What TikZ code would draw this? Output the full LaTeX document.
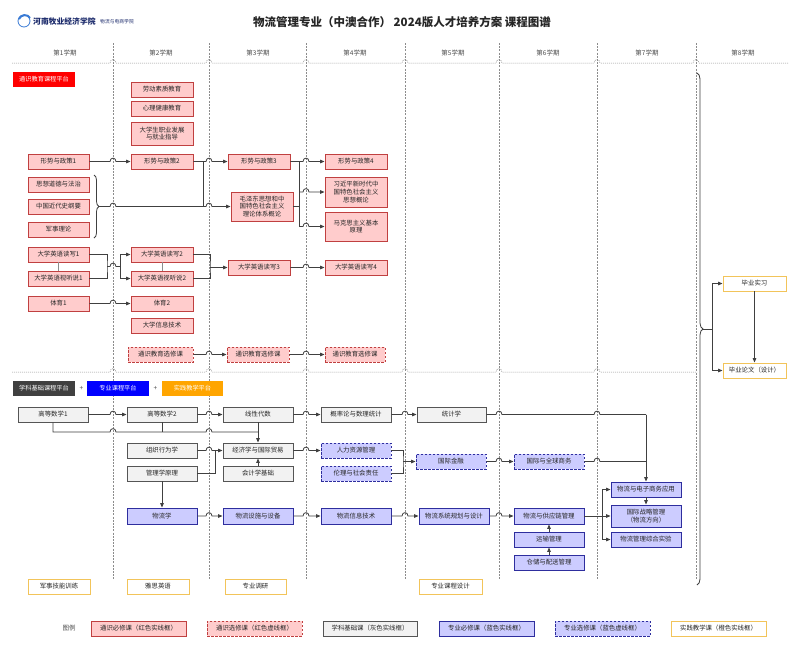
\documentclass[tikz,border=0pt]{standalone}
\usepackage{fontspec}
\setmainfont{Noto Sans CJK SC}
\usetikzlibrary{arrows.meta,calc,decorations.pathreplacing}
\definecolor{reqfill}{HTML}{FFCCCC}
\definecolor{reqdraw}{HTML}{C04040}
\definecolor{basefill}{HTML}{F2F2F2}
\definecolor{basedraw}{HTML}{555555}
\definecolor{blufill}{HTML}{CCCCFF}
\definecolor{bludraw}{HTML}{2E2E9E}
\definecolor{pracdraw}{HTML}{F2C45A}
\definecolor{conncol}{HTML}{404040}
\definecolor{divcol}{HTML}{8C8C8C}
\definecolor{logoblue}{HTML}{1B2A6B}
\definecolor{logosky}{HTML}{3A7BD5}
\definecolor{platorange}{HTML}{FFA500}
\definecolor{platgrey}{HTML}{404040}
\newcommand{\mybox}[7]{\node[#1, minimum width={(#5-#3)*1pt}, minimum height={(#6-#4)*1pt}] (#2) at ({(#3+#5)/2},{(#4+#6)/2}) {#7};}
\newcommand{\jp}[2]{-- ($(#1 -| #2)+(-3,0)$) .. controls ($(#1 -| #2)+(-3,-4.5)$) and ($(#1 -| #2)+(3,-4.5)$) .. ($(#1 -| #2)+(3,0)$)}
\tikzset{
 box/.style={draw, line width=0.9pt, inner sep=0.5pt, align=center, font=\fontsize{6.4}{7.6}\selectfont, text=black!85},
 req/.style={box, fill=reqfill, draw=reqdraw},
 ropt/.style={req, dash pattern=on 2.5pt off 1.5pt},
 base/.style={box, fill=basefill, draw=basedraw},
 preq/.style={box, fill=blufill, draw=bludraw},
 popt/.style={preq, dash pattern=on 2.5pt off 1.5pt},
 prac/.style={box, fill=white, draw=pracdraw},
 plat/.style={inner sep=0.5pt, align=center, font=\fontsize{6.2}{7}\selectfont, text=white},
 line/.style={draw=conncol, line width=0.8pt},
 arr/.style={line, -{Triangle[length=4.5pt,width=3.6pt]}},
 divider/.style={draw=divcol, line width=0.5pt, dash pattern=on 2pt off 1.2pt},
 hline/.style={draw=divcol, line width=0.5pt, dash pattern=on 1pt off 1pt},
 sem/.style={font=\fontsize{6.5}{7}\selectfont, text=black!70},
 brc/.style={line, decorate, decoration={brace, amplitude=5pt}},
 lab/.style={font=\fontsize{6.5}{7}\selectfont, text=black!70},
}
\begin{document}
\begin{tikzpicture}[x=1pt,y=-1pt]
\fill[white] (0,0) rectangle (800,649);
\useasboundingbox (0,0) rectangle (800,649);

% ---------- header ----------
\node[circle, draw=logosky, line width=0.8pt, fill=white, minimum size=12pt, inner sep=0pt] (logoc) at (24,21) {};
\draw[logosky, line width=2pt] (19,19) .. controls (21,14) and (28,14) .. (30,18);
\node[anchor=west, font=\bfseries\fontsize{7.8}{8}\selectfont, text=logoblue, inner sep=0pt] (logot) at (33,21) {河南牧业经济学院};
\node[anchor=west, font=\fontsize{4.8}{5}\selectfont, text=logoblue, inner sep=0pt] (logos) at (100,21.5) {物流与电商学院};
\node[font=\bfseries\fontsize{11.5}{13}\selectfont, text=black!85] (title) at (402,22) {物流管理专业（中澳合作） 2024版人才培养方案 课程图谱};

% ---------- grid ----------
\foreach \i/\x in {1/113,2/209,3/306,4/405,5/499,6/597,7/696} \coordinate (d\i) at (\x,0);
\foreach \x in {113,209,306,405,499,597,696} \draw[divider] (\x,43) -- (\x,580);
\coordinate (h0) at (12,63); \coordinate (h1) at (788,63);
\draw[hline] (h0) \jp{h0}{d1} \jp{h0}{d2} \jp{h0}{d3} \jp{h0}{d4} \jp{h0}{d5} \jp{h0}{d6} \jp{h0}{d7} -- (h1);
\coordinate (h2) at (12,372); \coordinate (h3) at (697,372);
\draw[hline] (h2) \jp{h2}{d1} \jp{h2}{d2} \jp{h2}{d3} \jp{h2}{d4} \jp{h2}{d5} \jp{h2}{d6} -- (h3);
\node[sem] (s1) at (65,53) {第1学期};
\node[sem] (s2) at (161,53) {第2学期};
\node[sem] (s3) at (258,53) {第3学期};
\node[sem] (s4) at (355,53) {第4学期};
\node[sem] (s5) at (453,53) {第5学期};
\node[sem] (s6) at (548,53) {第6学期};
\node[sem] (s7) at (647,53) {第7学期};
\node[sem] (s8) at (743,53) {第8学期};

% ---------- upper platform ----------
\mybox{plat, fill=red}{p1}{13}{72}{75}{87}{通识教育课程平台}
\mybox{req}{ld}{131}{82}{193}{97}{劳动素质教育}
\mybox{req}{xl}{131}{101}{193}{116}{心理健康教育}
\mybox{req}{zy}{131}{122}{193}{145}{大学生职业发展\\与就业指导}
\mybox{req}{xs1}{28}{154}{89}{169}{形势与政策1}
\mybox{req}{xs2}{131}{154}{193}{169}{形势与政策2}
\mybox{req}{xs3}{228}{154}{290}{169}{形势与政策3}
\mybox{req}{xs4}{325}{154}{387}{169}{形势与政策4}
\mybox{req}{sx}{28}{177}{89}{192}{思想道德与法治}
\mybox{req}{zg}{28}{199}{89}{214}{中国近代史纲要}
\mybox{req}{js}{28}{222}{89}{237}{军事理论}
\mybox{req}{mz}{231}{192}{293}{221}{毛泽东思想和中\\国特色社会主义\\理论体系概论}
\mybox{req}{xj}{325}{177}{387}{207}{习近平新时代中\\国特色社会主义\\思想概论}
\mybox{req}{mk}{325}{212}{387}{241}{马克思主义基本\\原理}
\mybox{req}{yd1}{28}{247}{89}{262}{大学英语读写1}
\mybox{req}{ys1}{28}{271}{89}{286}{大学英语视听说1}
\mybox{req}{yd2}{131}{247}{193}{262}{大学英语读写2}
\mybox{req}{ys2}{131}{271}{193}{286}{大学英语视听说2}
\mybox{req}{yd3}{228}{260}{290}{275}{大学英语读写3}
\mybox{req}{yd4}{325}{260}{387}{275}{大学英语读写4}
\mybox{req}{ty1}{28}{296}{89}{311}{体育1}
\mybox{req}{ty2}{131}{296}{193}{311}{体育2}
\mybox{req}{xx}{131}{318}{193}{333}{大学信息技术}
\mybox{ropt}{tx2}{128}{347}{193}{362}{通识教育选修课}
\mybox{ropt}{tx3}{227}{347}{289}{362}{通识教育选修课}
\mybox{ropt}{tx4}{325}{347}{385}{362}{通识教育选修课}

% connectors upper
\draw[arr] (xs1.east) \jp{xs1.east}{d1} -- (xs2.west);
\draw[arr] (xs2.east) \jp{xs2.east}{d2} -- (xs3.west);
\draw[brc] (94,175) -- (94,238);
\coordinate (bt) at (99,206.5);
\draw[arr] (bt) \jp{bt}{d1} \jp{bt}{d2} -- (mz.west);
\coordinate (j1) at (203,161.5);
\draw[line] (j1) -- (j1 |- bt);
\draw[arr] (xs3.east) \jp{xs3.east}{d3} -- (xs4.west);
\coordinate (j2) at (299,161.5);
\draw[line] (j2) -- (j2 |- mk.west);
\draw[arr] (j2 |- xj.west) \jp{xj.west}{d3} -- (xj.west);
\draw[arr] (j2 |- mk.west) \jp{mk.west}{d3} -- (mk.west);
\draw[line] (mz.east) -- (mz.east -| j2);
\coordinate (e1) at (107,266.5); \coordinate (e2) at (120,266.5);
\draw[line] (yd1.east) -| (e1) |- (ys1.east);
\draw[line] (e1) \jp{e1}{d1} -- (e2);
\draw[arr] (e2) |- (yd2.west);
\draw[arr] (e2) |- (ys2.west);
\draw[line, draw=divcol] (yd1.south) -- (ys1.north);
\draw[line, draw=divcol] (yd2.south) -- (ys2.north);
\coordinate (e3) at (210,267.5);
\draw[line] (yd2.east) -| (e3) |- (ys2.east);
\draw[arr] (e3) -- (yd3.west);
\draw[arr] (yd3.east) \jp{yd3.east}{d3} -- (yd4.west);
\draw[arr] (ty1.east) \jp{ty1.east}{d1} -- (ty2.west);
\draw[arr] (tx2.east) \jp{tx2.east}{d2} -- (tx3.west);
\draw[arr] (tx3.east) \jp{tx3.east}{d3} -- (tx4.west);

% ---------- semester 8 ----------
\mybox{prac}{by}{723}{276}{786}{291}{毕业实习}
\mybox{prac}{bl}{723}{363}{786}{378}{毕业论文（设计）}
\draw[brc, decoration={brace, amplitude=6pt}] (697,73) -- (697,585);
\coordinate (bt8) at (703,329); \coordinate (f8) at (712,329);
\draw[line] (bt8) -- (f8);
\draw[arr] (f8) |- (by.west);
\draw[arr] (f8) |- (bl.west);
\draw[arr] (by.south) -- (bl.north);

% ---------- lower platforms ----------
\mybox{plat, fill=platgrey}{p2}{13}{381}{75}{396}{学科基础课程平台}
\node[lab] (pl1) at (81.5,388.5) {+};
\mybox{plat, fill=blue}{p3}{87}{381}{149}{396}{专业课程平台}
\node[lab] (pl2) at (155.5,388.5) {+};
\mybox{plat, fill=platorange}{p4}{162}{381}{223}{396}{实践教学平台}

\mybox{base}{gs1}{18}{407}{88}{422}{高等数学1}
\mybox{base}{gs2}{127}{407}{197}{422}{高等数学2}
\mybox{base}{xd}{223}{407}{293}{422}{线性代数}
\mybox{base}{gl}{321}{407}{391}{422}{概率论与数理统计}
\mybox{base}{tj}{417}{407}{486}{422}{统计学}
\mybox{base}{zz}{127}{443}{197}{458}{组织行为学}
\mybox{base}{gx}{127}{466}{197}{481}{管理学原理}
\mybox{base}{jj}{223}{443}{293}{458}{经济学与国际贸易}
\mybox{base}{kj}{223}{466}{293}{481}{会计学基础}
\mybox{popt}{rl}{321}{443}{391}{458}{人力资源管理}
\mybox{popt}{ll}{321}{466}{391}{481}{伦理与社会责任}
\mybox{popt}{jr}{416}{454}{486}{469}{国际金融}
\mybox{popt}{qq}{514}{454}{584}{469}{国际与全球商务}
\mybox{preq}{wl}{127}{508}{197}{524}{物流学}
\mybox{preq}{ss}{223}{508}{293}{524}{物流设施与设备}
\mybox{preq}{xi}{321}{508}{391}{524}{物流信息技术}
\mybox{preq}{gh}{419}{508}{489}{524}{物流系统规划与设计}
\mybox{preq}{gy}{514}{508}{584}{524}{物流与供应链管理}
\mybox{preq}{yss}{514}{532}{584}{547}{运输管理}
\mybox{preq}{cc}{514}{555}{584}{570}{仓储与配送管理}
\mybox{preq}{ds}{611}{482}{681}{497}{物流与电子商务应用}
\mybox{preq}{zl}{611}{505}{681}{527}{国际战略管理\\（物流方向）}
\mybox{preq}{sy}{611}{532}{681}{547}{物流管理综合实验}

% connectors lower
\draw[arr] (gs1.east) \jp{gs1.east}{d1} -- (gs2.west);
\draw[arr] (gs2.east) \jp{gs2.east}{d2} -- (xd.west);
\draw[arr] (xd.east) \jp{xd.east}{d3} -- (gl.west);
\draw[arr] (gl.east) \jp{gl.east}{d4} -- (tj.west);
\coordinate (t1) at (646,414.5);
\draw[line] (tj.east) \jp{tj.east}{d5} \jp{tj.east}{d6} -- (t1);
\draw[arr] (t1) -- (ds.north);
\coordinate (b1) at (53,432); \coordinate (b2) at (258,432);
\draw[line] (gs1.south) -- (b1) \jp{b1}{d1} \jp{b1}{d2} -- (b2);
\draw[line] (gs2.south) -- (gs2.south |- b1);
\draw[arr] (xd.south) -- (jj.north);
\draw[arr] (zz.east) \jp{zz.east}{d2} -- (jj.west);
\coordinate (j3) at (215,450.5);
\draw[line] (gx.east) -| (j3);
\draw[arr] (kj.north) -- (jj.south);
\draw[arr] (gx.south) -- (wl.north);
\draw[arr] (wl.east) \jp{wl.east}{d2} -- (ss.west);
\draw[arr] (ss.east) \jp{ss.east}{d3} -- (xi.west);
\draw[arr] (xi.east) \jp{xi.east}{d4} -- (gh.west);
\draw[arr] (gh.east) \jp{gh.east}{d5} -- (gy.west);
\draw[arr] (jj.east) \jp{jj.east}{d3} -- (rl.west);
\coordinate (e4) at (403,461.5);
\draw[line] (rl.east) -| (e4) |- (ll.east);
\draw[arr] (e4) -- (jr.west);
\draw[arr] (jr.east) \jp{jr.east}{d5} -- (qq.west);
\draw[line] (qq.east) \jp{qq.east}{d6} -- (qq.east -| t1);
\draw[arr] (yss.north) -- (gy.south);
\draw[arr] (cc.north) -- (yss.south);
\coordinate (e5) at (602,516);
\draw[line] (gy.east) -- (e5);
\draw[arr] (e5) -- (zl.west);
\draw[arr] (e5) |- (ds.west);
\draw[arr] (e5) |- (sy.west);
\draw[arr] (ds.south) -- (zl.north);

% ---------- practice ----------
\mybox{prac}{jx}{28}{579}{90}{594}{军事技能训练}
\mybox{prac}{ysy}{127}{579}{189}{594}{雅思英语}
\mybox{prac}{dy}{225}{579}{286}{594}{专业调研}
\mybox{prac}{kc}{419}{579}{482}{594}{专业课程设计}

% ---------- legend ----------
\node[lab] (tl) at (69,628.5) {图例};
\mybox{req}{lg1}{91}{621}{186}{636}{通识必修课（红色实线框）}
\mybox{ropt}{lg2}{207}{621}{302}{636}{通识选修课（红色虚线框）}
\mybox{base}{lg3}{323}{621}{417}{636}{学科基础课（灰色实线框）}
\mybox{preq}{lg4}{439}{621}{534}{636}{专业必修课（蓝色实线框）}
\mybox{popt}{lg5}{555}{621}{650}{636}{专业选修课（蓝色虚线框）}
\mybox{prac}{lg6}{671}{621}{766}{636}{实践教学课（橙色实线框）}
\end{tikzpicture}
\end{document}
